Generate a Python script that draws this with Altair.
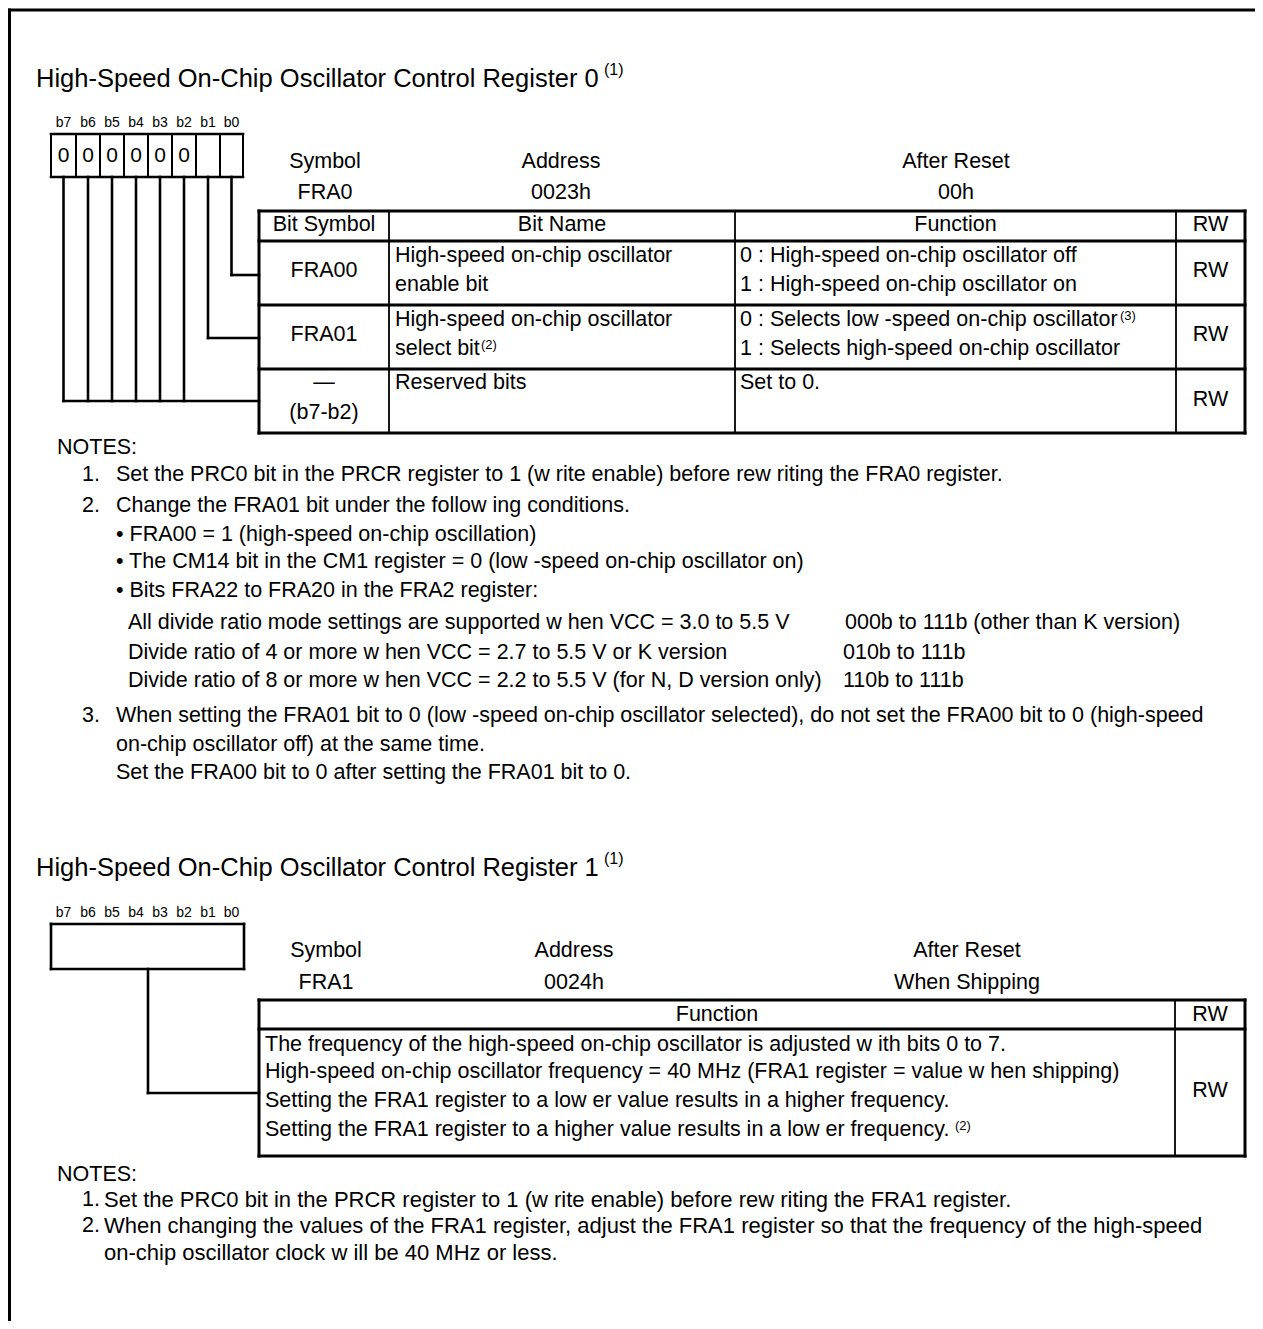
import altair as alt
import pandas as pd

# ---------------- content ----------------
TITLE_0 = "High-Speed On-Chip Oscillator Control Register 0"
TITLE_1 = "High-Speed On-Chip Oscillator Control Register 1"
TITLE_SUP = "(1)"
BIT_LABELS = ["b7", "b6", "b5", "b4", "b3", "b2", "b1", "b0"]
FRA0_BITS = ["0", "0", "0", "0", "0", "0", "", ""]
INFO_HEAD = ["Symbol", "Address", "After Reset"]
FRA0_INFO = ["FRA0", "0023h", "00h"]
FRA1_INFO = ["FRA1", "0024h", "When Shipping"]
FRA0_HEADER = ["Bit Symbol", "Bit Name", "Function", "RW"]
FRA0_SYMBOLS = [["FRA00"], ["FRA01"], ["\u2014", "(b7-b2)"]]
FRA0_NAMES = [["High-speed on-chip oscillator", "enable bit"],
              ["High-speed on-chip oscillator", "select bit"],
              ["Reserved bits"]]
FRA0_NAME_SUPS = ["", "(2)", ""]
FRA0_FUNCS = [["0 : High-speed on-chip oscillator off", "1 : High-speed on-chip oscillator on"],
              ["0 : Selects low -speed on-chip oscillator", "1 : Selects high-speed on-chip oscillator"],
              ["Set to 0."]]
FRA0_FUNC_SUPS = ["", "(3)", ""]
FRA0_RW = ["RW", "RW", "RW"]
FRA1_HEADER = ["Function", "RW"]
FRA1_FUNC = ["The frequency of the high-speed on-chip oscillator is adjusted w ith bits 0 to 7.",
             "High-speed on-chip oscillator frequency = 40 MHz (FRA1 register = value w hen shipping)",
             "Setting the FRA1 register to a low er value results in a higher frequency.",
             "Setting the FRA1 register to a higher value results in a low er frequency."]
FRA1_FUNC_SUP = "(2)"
FRA1_RW = "RW"
NOTES_LABEL = "NOTES:"
NOTES0_NUMS = ["1.", "2.", "3."]
NOTES0_LINES = [
    "Set the PRC0 bit in the PRCR register to 1 (w rite enable) before rew riting the FRA0 register.",
    "Change the FRA01 bit under the follow ing conditions.",
    "\u2022 FRA00 = 1 (high-speed on-chip oscillation)",
    "\u2022 The CM14 bit in the CM1 register = 0 (low -speed on-chip oscillator on)",
    "\u2022 Bits FRA22 to FRA20 in the FRA2 register:",
]
NOTES0_RATIO_TEXT = ["All divide ratio mode settings are supported w hen VCC = 3.0 to 5.5 V",
                     "Divide ratio of 4 or more w hen VCC = 2.7 to 5.5 V or K version",
                     "Divide ratio of 8 or more w hen VCC = 2.2 to 5.5 V (for N, D version only)"]
NOTES0_RATIO_VALUES = ["000b to 111b (other than K version)", "010b to 111b", "110b to 111b"]
NOTES0_N3 = ["When setting the FRA01 bit to 0 (low -speed on-chip oscillator selected), do not set the FRA00 bit to 0 (high-speed",
             "on-chip oscillator off) at the same time.",
             "Set the FRA00 bit to 0 after setting the FRA01 bit to 0."]
NOTES1_NUMS = ["1.", "2."]
NOTES1_LINES = ["Set the PRC0 bit in the PRCR register to 1 (w rite enable) before rew riting the FRA1 register.",
                "When changing the values of the FRA1 register, adjust the FRA1 register so that the frequency of the high-speed",
                "on-chip oscillator clock w ill be 40 MHz or less."]

# ---------------- layout (page pixel grid) ----------------
FS = 21.5
FS_TITLE = 25.5
FS_SUP = 13
FS_TSUP = 16
FS_BITS = 14
BIT_EDGES = [47, 72, 96, 120, 144, 168, 192, 216, 239]
BIT_CENTERS = [(a + b) / 2 for a, b in zip(BIT_EDGES[:-1], BIT_EDGES[1:])]
T0_COLS = [255, 385, 731, 1172, 1241]
T0_ROWS = [208, 238, 302, 366, 430]
T1_COLS = [255, 1171, 1241]
T1_ROWS = [997, 1026, 1153]

lines, ctext, ltext = [], [], []


def L(x, y, x2, y2, w=2.6):
    lines.append(dict(x=x, y=y, x2=x2, y2=y2, w=w))


def C(x, y, t, s=FS):
    ctext.append(dict(x=x, y=y, t=t, s=s))


def T(x, y, t, s=FS):
    ltext.append(dict(x=x, y=y, t=t, s=s))


# frame
L(4, 7, 1263, 7, 3)
L(5.5, 7, 5.5, 1329, 3)

# ---- register 0 ----
T(32, 76, TITLE_0, FS_TITLE)
T(600, 67, TITLE_SUP, FS_TSUP)
for cx, lab in zip(BIT_CENTERS, BIT_LABELS):
    C(cx, 120, lab, FS_BITS)
for cx, b in zip(BIT_CENTERS, FRA0_BITS):
    if b:
        C(cx, 153, b, 21)
L(47, 131, 239, 131)
L(47, 174, 239, 174)
for ex in BIT_EDGES:
    L(ex, 131, ex, 174, 2)
# connector lines
L(BIT_CENTERS[7], 174, BIT_CENTERS[7], 272)
L(BIT_CENTERS[7], 272, 255, 272)
L(BIT_CENTERS[6], 174, BIT_CENTERS[6], 335)
L(BIT_CENTERS[6], 335, 255, 335)
for cx in BIT_CENTERS[:6]:
    L(cx, 174, cx, 398)
L(BIT_CENTERS[0], 398, 255, 398)

info_x0 = [321, 557, 952]
for x, h, v in zip(info_x0, INFO_HEAD, FRA0_INFO):
    C(x, 159, h)
    C(x, 190, v)

for y in T0_ROWS:
    L(T0_COLS[0], y, T0_COLS[-1], y, 3)
for i, x in enumerate(T0_COLS):
    L(x, T0_ROWS[0], x, T0_ROWS[-1], 3 if i in (0, len(T0_COLS) - 1) else 1.8)
col_c = [(a + b) / 2 for a, b in zip(T0_COLS[:-1], T0_COLS[1:])]
for x, h in zip(col_c, FRA0_HEADER):
    C(x, 222, h)
row_line1 = [253, 317, 380]
row_mid = [268, 332, 397]
name_sup_x = [0, 477, 0]
func_sup_x = [0, 1116, 0]
for r in range(3):
    syms = FRA0_SYMBOLS[r]
    if len(syms) == 1:
        C(col_c[0], row_mid[r], syms[0])
    else:
        C(col_c[0], row_line1[r], syms[0])
        C(col_c[0], row_line1[r] + 30, syms[1])
    for k, t in enumerate(FRA0_NAMES[r]):
        T(391, row_line1[r] + 28.5 * k, t)
    if FRA0_NAME_SUPS[r]:
        T(name_sup_x[r], row_line1[r] + 28.5 - 4, FRA0_NAME_SUPS[r], FS_SUP)
    for k, t in enumerate(FRA0_FUNCS[r]):
        T(736, row_line1[r] + 28.5 * k, t)
    if FRA0_FUNC_SUPS[r]:
        T(func_sup_x[r], row_line1[r] - 4, FRA0_FUNC_SUPS[r], FS_SUP)
    C(col_c[3], row_mid[r], FRA0_RW[r])

# notes 0
T(53, 445, NOTES_LABEL)
T(78, 472, NOTES0_NUMS[0])
T(112, 472, NOTES0_LINES[0])
T(78, 503, NOTES0_NUMS[1])
T(112, 503, NOTES0_LINES[1])
for k, y in enumerate([532, 559, 588]):
    T(112, y, NOTES0_LINES[2 + k])
for k, y in enumerate([620, 650, 678]):
    T(124, y, NOTES0_RATIO_TEXT[k])
    T(841 if k == 0 else 839, y, NOTES0_RATIO_VALUES[k])
T(78, 713, NOTES0_NUMS[2])
for k, y in enumerate([713, 742, 770]):
    T(112, y, NOTES0_N3[k])

# ---- register 1 ----
T(32, 865, TITLE_1, FS_TITLE)
T(600, 856, TITLE_SUP, FS_TSUP)
for cx, lab in zip(BIT_CENTERS, BIT_LABELS):
    C(cx, 910, lab, FS_BITS)
L(47, 921, 240, 921)
L(47, 966, 240, 966)
L(47, 921, 47, 966)
L(240, 921, 240, 966)
L(144, 966, 144, 1090)
L(144, 1090, 255, 1090)
info_x1 = [322, 570, 963]
for x, h, v in zip(info_x1, INFO_HEAD, FRA1_INFO):
    C(x, 948, h)
    C(x, 980, v)
for y in T1_ROWS:
    L(T1_COLS[0], y, T1_COLS[-1], y, 3)
for i, x in enumerate(T1_COLS):
    L(x, T1_ROWS[0], x, T1_ROWS[-1], 3 if i in (0, len(T1_COLS) - 1) else 1.8)
C(713, 1012, FRA1_HEADER[0])
C((T1_COLS[1] + T1_COLS[2]) / 2, 1012, FRA1_HEADER[1])
for k, y in enumerate([1042, 1069, 1098, 1127]):
    T(261, y, FRA1_FUNC[k])
T(951, 1123, FRA1_FUNC_SUP, FS_SUP)
C((T1_COLS[1] + T1_COLS[2]) / 2, 1088, FRA1_RW)

# notes 1
T(53, 1172, NOTES_LABEL)
T(78, 1197, NOTES1_NUMS[0])
T(100, 1197, NOTES1_LINES[0], 22)
T(78, 1223, NOTES1_NUMS[1])
T(100, 1223, NOTES1_LINES[1], 22)
T(100, 1250, NOTES1_LINES[2], 22)

# ---------------- chart ----------------
xs = alt.Scale(domain=[4, 1251], range=[0, 1247], nice=False, zero=False)
ys = alt.Scale(domain=[5, 1318], range=[0, 1313], nice=False, zero=False)
FONT = "Liberation Sans"

rules = alt.Chart(pd.DataFrame(lines)).mark_rule(color="black", strokeCap="square").encode(
    x=alt.X("x:Q", scale=xs, axis=None),
    y=alt.Y("y:Q", scale=ys, axis=None),
    x2="x2:Q",
    y2="y2:Q",
    strokeWidth=alt.StrokeWidth("w:Q", scale=None, legend=None),
)

ctexts = alt.Chart(pd.DataFrame(ctext)).mark_text(
    align="center", baseline="middle", font=FONT, color="black"
).encode(
    x=alt.X("x:Q", scale=xs, axis=None),
    y=alt.Y("y:Q", scale=ys, axis=None),
    text="t:N",
    size=alt.Size("s:Q", scale=None, legend=None),
)

ltexts = alt.Chart(pd.DataFrame(ltext)).mark_text(
    align="left", baseline="middle", font=FONT, color="black"
).encode(
    x=alt.X("x:Q", scale=xs, axis=None),
    y=alt.Y("y:Q", scale=ys, axis=None),
    text="t:N",
    size=alt.Size("s:Q", scale=None, legend=None),
)

chart = alt.layer(rules, ctexts, ltexts).properties(
    width=1247, height=1313, padding=0, autosize="none", background="white"
).configure_view(stroke=None)

chart.save("out.html", embed_options={"renderer": "svg", "actions": False})
